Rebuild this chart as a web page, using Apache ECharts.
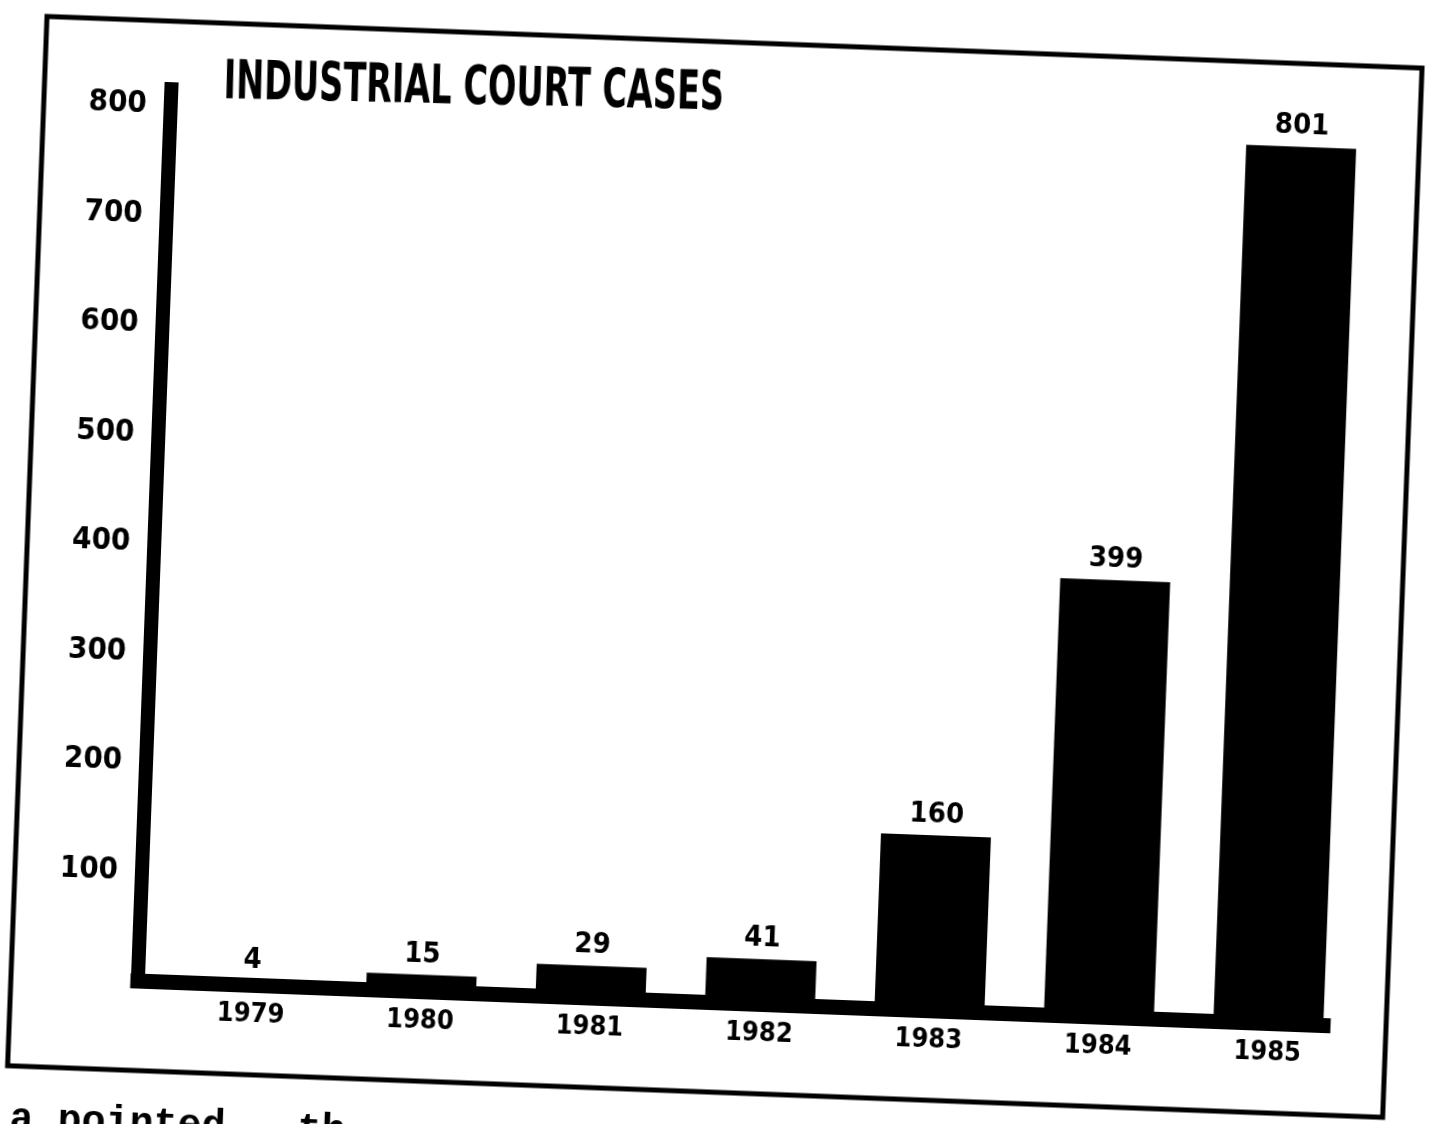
<!DOCTYPE html>
<html>
<head>
<meta charset="utf-8">
<title>Industrial Court Cases</title>
<script src="https://cdn.jsdelivr.net/npm/echarts@6/dist/echarts.min.js"></script>
<style>
  html, body { margin: 0; padding: 0; width: 1435px; height: 1124px; overflow: hidden; background: #fff; }
  /* the printed page sits slightly askew */
  #chart {
    position: absolute; left: 0; top: 0;
    width: 1435px; height: 1200px;
    transform-origin: 717.5px 562px;
    transform: rotate(2.15deg);
  }
</style>
</head>
<body>
<div id="chart"></div>
<script>
// Cases heard per year
const years = ['1979', '1980', '1981', '1982', '1983', '1984', '1985'];
const cases = [4, 15, 29, 41, 160, 399, 801];

// Vertical scale
const yMax = 815;
const yStep = 100;

const titleText = 'INDUSTRIAL COURT CASES';
const footText = 'a pointed.  th';

const condensed = "'Liberation Sans Narrow', 'DejaVu Sans Condensed', 'Liberation Sans', sans-serif";

const chart = echarts.init(document.getElementById('chart'), null, { renderer: 'canvas' });

chart.setOption({
  backgroundColor: '#fff',
  animation: false,
  grid: [
    // axis frame
    { left: 154, top: 110, width: 1186, height: 892 },
    // bar plotting area
    { left: 183, top: 110, width: 1187, height: 892 }
  ],
  xAxis: [
    {
      gridIndex: 0, type: 'value', min: 0, max: 1,
      axisLine: { show: true, lineStyle: { color: '#000', width: 15, cap: 'square' } },
      axisTick: { show: false }, axisLabel: { show: false }, splitLine: { show: false }
    },
    {
      gridIndex: 1, type: 'category', data: years,
      axisLine: { show: false }, axisTick: { show: false }, splitLine: { show: false },
      axisLabel: {
        margin: 16, color: '#000', fontSize: 27, fontWeight: 'bold', fontFamily: condensed
      }
    }
  ],
  yAxis: [
    {
      gridIndex: 0, type: 'value', min: 0, max: yMax, interval: yStep,
      axisLine: { show: true, lineStyle: { color: '#000', width: 14, cap: 'square' } },
      axisTick: { show: false }, splitLine: { show: false },
      axisLabel: {
        margin: 24, color: '#000', fontSize: 31, fontWeight: 'bold', fontFamily: condensed,
        formatter: v => (v > 0 && v % yStep === 0) ? String(v) : ''
      }
    },
    { gridIndex: 1, type: 'value', min: 0, max: yMax, show: false }
  ],
  series: [{
    type: 'bar',
    xAxisIndex: 1, yAxisIndex: 1,
    data: cases,
    barWidth: 110,
    itemStyle: { color: '#000' },
    label: {
      show: true, position: 'top', distance: 6,
      color: '#000', fontSize: 29, fontWeight: 'bold', fontFamily: condensed
    }
  }],
  graphic: [
    {
      type: 'rect', silent: true,
      shape: { x: 27, y: 42, width: 1376, height: 1050 },
      style: { fill: null, stroke: '#000', lineWidth: 5 }
    },
    {
      type: 'text', x: 206, y: 103, rotation: 0.015, scaleX: 0.69,
      style: {
        text: titleText, fill: '#000', fontSize: 54, fontWeight: 'bold', fontFamily: condensed,
        align: 'left', verticalAlign: 'middle'
      }
    },
    {
      type: 'text', x: 31, y: 1126,
      style: {
        text: footText, fill: '#000', fontSize: 40, fontWeight: 'bold',
        fontFamily: "'Liberation Mono', 'DejaVu Sans Mono', monospace",
        align: 'left', verticalAlign: 'top'
      }
    }
  ]
});
</script>
</body>
</html>
